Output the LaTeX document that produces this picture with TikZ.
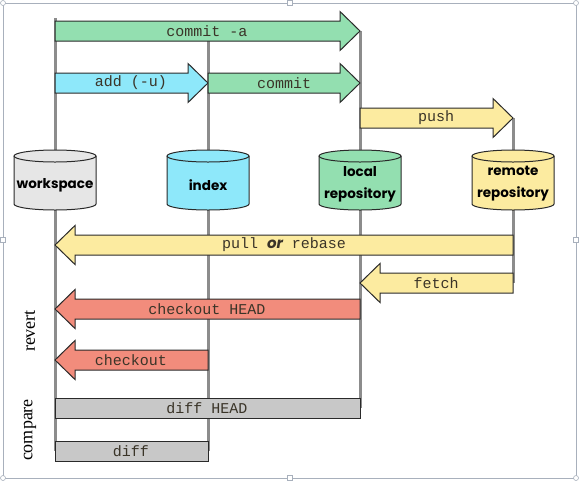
\documentclass[tikz,border=0pt]{standalone}
\usepackage{fontspec}
\setmainfont{Liberation Serif}
\setmonofont{Liberation Mono}
\newfontfamily\cylfont{Poppins}
\usetikzlibrary{calc}
\definecolor{wsgray}{HTML}{E6E6E6}
\definecolor{idxcyan}{HTML}{8EE8FA}
\definecolor{locgreen}{HTML}{93DFB0}
\definecolor{remyellow}{HTML}{FCEBA0}
\definecolor{revred}{HTML}{F28C7C}
\definecolor{diffgray}{HTML}{C8C8C8}
\definecolor{colgray}{HTML}{8C8C8C}
\definecolor{edge}{HTML}{2A2A2A}
\definecolor{cmdtext}{HTML}{3A3428}
\definecolor{framecol}{HTML}{A8B0BC}
\newcommand{\drum}[2]{%
  \filldraw[fill=#2, draw=edge, line width=1pt] (#1-41,156) -- (#1-41,204)
    arc[start angle=180, end angle=0, x radius=41, y radius=6] -- (#1+41,156)
    arc[start angle=0, end angle=-180, x radius=41, y radius=6] -- cycle;
  \draw[edge, line width=1pt] (#1-41,156) arc[start angle=180, end angle=0, x radius=41, y radius=6];}
\tikzset{
  colline/.style={draw=colgray, line width=3pt},
  repotext/.style={align=center, inner sep=0pt,
    font=\cylfont\bfseries\fontsize{13.5}{22}\selectfont},
  blockarrow/.style={draw=edge, line width=1pt, to path={
    let \p1=(\tikztostart), \p2=(\tikztotarget), \n1={ifthenelse(\x2>\x1,20,-20)} in
    (\x1,\y1+10) -- (\x2-\n1,\y1+10) -- (\x2-\n1,\y1+19.5) -- (\x2,\y1)
    -- (\x2-\n1,\y1-19.5) -- (\x2-\n1,\y1-10) -- (\x1,\y1-10) -- cycle}},
  boxbar/.style={draw=edge, line width=1pt, fill=diffgray, to path={
    let \p1=(\tikztostart), \p2=(\tikztotarget) in
    (\x1,\y1+10) rectangle (\x2,\y2-10)}},
  cmd/.style={font=\ttfamily\fontsize{15}{17}\selectfont, text=cmdtext, inner sep=0pt},
  side/.style={rotate=90, font=\fontsize{18}{20}\selectfont, inner sep=0pt}
}
\begin{document}
\begin{tikzpicture}[x=1pt,y=-1pt]
  \useasboundingbox (0,0) rectangle (580,480);
  \draw[framecol, line width=0.8pt] (3,3) rectangle (576,478);
  \foreach \p in {(3,3),(576,3),(3,478),(576,478)}
    \draw[framecol, fill=white, line width=0.6pt] \p circle (2.5);
  \foreach \p in {(290,3),(3,240),(576,240),(290,478)}
    \draw[framecol, fill=white, line width=0.6pt] \p ++(-2.5,-2.5) rectangle ++(5,5);

  \foreach \name/\y in {top/18, ca/31, add/83, push/118, pull/245, fetch/283, coh/309, co/360, dh/408, df/451}
    \coordinate (\name) at (0,\y);

  \coordinate (wsx) at (55,0);
  \coordinate (idxx) at (208,0);
  \coordinate (locx) at (360,0);
  \coordinate (remx) at (513,0);

  \draw[colline] (wsx |- top) -- (wsx |- df);
  \draw[colline] (idxx |- ca) -- (idxx |- df);
  \draw[colline] (locx |- ca) -- (locx |- dh);
  \draw[colline] (remx |- push) -- (remx |- fetch);

  \drum{55}{wsgray}
  \drum{208}{idxcyan}
  \drum{360}{locgreen}
  \drum{513}{remyellow}
  \node[repotext] (ws) at (55,185) {workspace};
  \node[repotext] (idx) at (208,185) {index};
  \node[repotext] (loc) at (360,184) {local\\repository};
  \node[repotext] (rem) at (513,184) {remote\\repository};

  \draw[blockarrow, fill=locgreen] (ws |- ca) to (loc |- ca);
  \node[cmd] (lca) at (207,31) {commit -a};
  \draw[blockarrow, fill=idxcyan] (ws |- add) to (idx |- add);
  \node[cmd] (ladd) at (131,83) {add (-u)};
  \draw[blockarrow, fill=locgreen] (idx |- add) to (loc |- add);
  \node[cmd] (lcommit) at (284,83) {commit};
  \draw[blockarrow, fill=remyellow] (loc |- push) to (rem |- push);
  \node[cmd] (lpush) at (436,118) {push};
  \draw[blockarrow, fill=remyellow] (rem |- pull) to (ws |- pull);
  \node[cmd] (lpull) at (284,245) {pull {\cylfont\bfseries\itshape or} rebase};
  \draw[blockarrow, fill=remyellow] (rem |- fetch) to (loc |- fetch);
  \node[cmd] (lfetch) at (436,283) {fetch};
  \draw[blockarrow, fill=revred] (loc |- coh) to (ws |- coh);
  \node[cmd] (lcoh) at (207,309) {checkout HEAD};
  \draw[blockarrow, fill=revred] (idx |- co) to (ws |- co);
  \node[cmd] (lco) at (131,360) {checkout};
  \draw[boxbar] (ws |- dh) to (loc |- dh);
  \node[cmd] (ldh) at (207,408) {diff HEAD};
  \draw[boxbar] (ws |- df) to (idx |- df);
  \node[cmd] (ldf) at (131,451) {diff};

  \node[side] (revert) at (30,331) {revert};
  \node[side] (compare) at (30,430) {compare};
\end{tikzpicture}
\end{document}
